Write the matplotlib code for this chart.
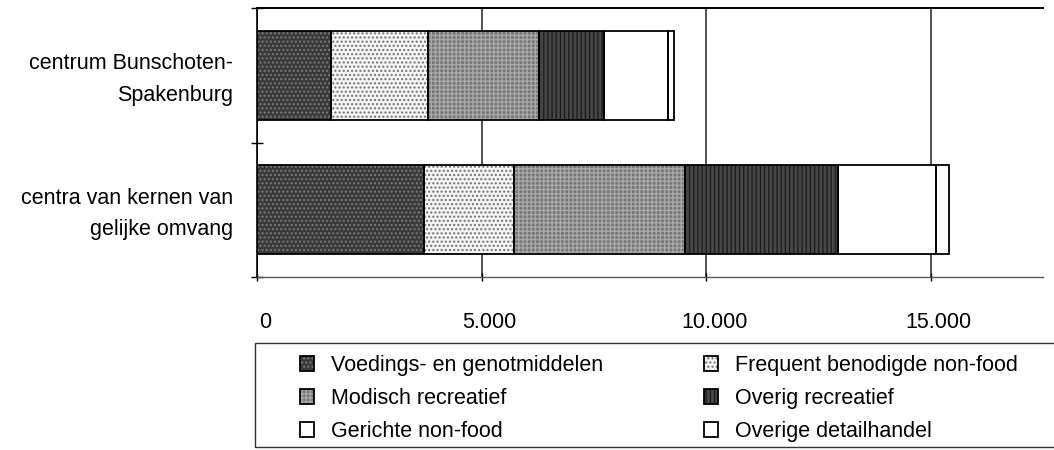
import matplotlib.pyplot as plt
from matplotlib.ticker import FuncFormatter
from matplotlib.legend_handler import HandlerTuple
from matplotlib.patches import Rectangle
from matplotlib.transforms import ScaledTranslation
import numpy as np

plt.rcParams['font.family'] = ['Liberation Sans', 'DejaVu Sans']

places = ['centrum Bunschoten-\nSpakenburg', 'centra van kernen van\ngelijke omvang']
series = ['Voedings- en genotmiddelen', 'Frequent benodigde non-food', 'Modisch recreatief',
          'Overig recreatief', 'Gerichte non-food', 'Overige detailhandel']
voedings = [1650, 3720]
frequent = [2150, 1995]
modisch = [2475, 3815]
overig_recr = [1450, 3395]
gericht = [1430, 2185]
overige = [135, 290]
values = [voedings, frequent, modisch, overig_recr, gericht, overige]

# scanned greyscale textures
faces = ['#3a3a3a', '#f4f4f4', '#777777', '#474747', '#ffffff', '#ffffff']
hatch_cols = ['#7a7a7a', '#707070', '#a8a8a8', '#1e1e1e', '#ffffff', '#ffffff']
hatches = ['....', '....', '++++', '||||', None, None]

fig = plt.figure(figsize=(10.54, 4.5), dpi=100)
ax = fig.add_axes([257 / 1054, 1 - 277 / 450, 786 / 1054, 269 / 450])

y = np.arange(len(places))
left = np.zeros(len(places))
handles = []
for name, vals, fc, hc, h in zip(series, values, faces, hatch_cols, hatches):
    fill = ax.barh(y, vals, left=left, height=0.66, color=fc, edgecolor=hc,
                   hatch=h, linewidth=0, zorder=3)
    outline = ax.barh(y, vals, left=left, height=0.66, fill=False,
                      edgecolor='black', linewidth=1.3, zorder=4)
    handles.append((fill, outline))
    left += np.array(vals)

ax.set_xlim(0, 17500)
ax.set_ylim(1.5, -0.5)
ax.set_xticks([0, 5000, 10000, 15000])
ax.xaxis.set_major_formatter(FuncFormatter(lambda v, p: f'{int(v):,}'.replace(',', '.')))
ax.grid(axis='x', color='#222222', linewidth=1.1, zorder=1)
ax.set_yticks([-0.5, 0.5, 1.5])
ax.set_yticklabels([])
ax.set_yticks(y - 0.025, minor=True)
ax.set_yticklabels(places, minor=True, fontsize=15.5, linespacing=1.65)
ax.tick_params(axis='y', which='major', direction='inout', length=8, width=1)
ax.tick_params(axis='y', which='minor', length=0, pad=17)
ax.tick_params(axis='x', direction='inout', length=6, width=1, labelsize=15.5, pad=22)
shift = ScaledTranslation(8 / 100, 0, fig.dpi_scale_trans)
for lab in ax.get_xticklabels():
    lab.set_transform(lab.get_transform() + shift)
ax.spines['right'].set_visible(False)
ax.spines['top'].set_linewidth(1.4)
ax.spines['left'].set_linewidth(1.2)
ax.spines['bottom'].set_color('#555555')
ax.spines['bottom'].set_linewidth(1.0)

# legend box runs off the right edge of the page
fig.patches.append(Rectangle((255 / 1054, 1 - 447 / 450), 0.8, 104 / 450,
                             transform=fig.transFigure, fill=False,
                             edgecolor='#333333', linewidth=1.0))
order = [0, 2, 4, 1, 3, 5]
fig.legend([handles[i] for i in order], [series[i] for i in order],
           handler_map={tuple: HandlerTuple(ndivide=1)},
           ncol=2, loc='upper left', bbox_to_anchor=(285 / 1054, 1 - 340 / 450),
           frameon=False, fontsize=15.5, handlelength=0.65, handleheight=0.65,
           handletextpad=0.8, labelspacing=0.56, columnspacing=4.65, borderpad=0.2)

fig.savefig('out.png', dpi=100)
